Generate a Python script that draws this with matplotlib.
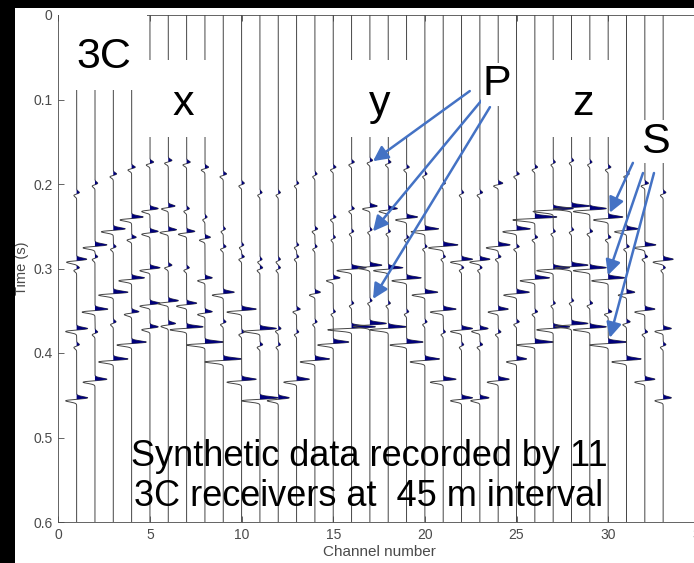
import numpy as np
import matplotlib
matplotlib.use("Agg")
import matplotlib.pyplot as plt
from matplotlib.patches import Rectangle

# ---- data ----
# 11 receivers, 3 components (x: ch 1-11, y: ch 12-22, z: ch 23-33)
channels = np.arange(1, 34)

# arrival times (s) per receiver, same for every component
p1_time = [0.210, 0.199, 0.188, 0.180, 0.174, 0.172, 0.174, 0.180, 0.188, 0.199, 0.210]
s1_time = [0.289, 0.272, 0.253, 0.239, 0.229, 0.226, 0.229, 0.239, 0.253, 0.272, 0.289]
p2_time = [0.299, 0.286, 0.274, 0.263, 0.256, 0.254, 0.256, 0.263, 0.274, 0.286, 0.299]
s2_time = [0.371, 0.348, 0.328, 0.311, 0.299, 0.296, 0.299, 0.311, 0.328, 0.348, 0.371]
p3_time = [0.390, 0.375, 0.363, 0.351, 0.341, 0.338, 0.341, 0.351, 0.363, 0.375, 0.390]
s3_time = [0.453, 0.431, 0.407, 0.387, 0.369, 0.365, 0.369, 0.387, 0.407, 0.431, 0.453]

# peak amplitudes in channel units, x | y | z
p1_amp = [0.15, 0.15, 0.18, 0.2, 0.2, 0.2, 0.2, 0.2, 0.18, 0.15, 0.12,
          0.12, 0.12, 0.12, 0.15, 0.15, 0.15, 0.15, 0.15, 0.12, 0.12, 0.12,
          0.15, 0.25, 0.15, 0.15, 0.12, 0.12, 0.12, 0.15, 0.15, 0.2, 0.15]
s1_amp = [0.55, 0.65, 0.65, 0.63, 0.45, 0.37, 0.15, 0.12, 0.12, 0.12, 0.12,
          0.12, 0.12, 0.15, 0.15, 0.15, 0.4, 0.5, 0.6, 0.75, 0.8, 0.6,
          0.55, 0.65, 0.75, 1.2, 1.1, 1.0, 0.9, 0.8, 0.65, 0.6, 0.55]
p2_amp = [0.15, 0.15, 0.15, 0.25, 0.45, 0.45, 0.45, 0.3, 0.15, 0.15, 0.15,
          0.12, 0.12, 0.12, 0.12, 0.12, 0.12, 0.12, 0.12, 0.12, 0.12, 0.12,
          0.12, 0.15, 0.15, 0.15, 0.12, 0.12, 0.15, 0.15, 0.15, 0.15, 0.12]
s2_amp = [0.6, 0.7, 0.8, 0.7, 0.55, 0.2, 0.15, 0.4, 0.6, 0.8, 0.9,
          0.15, 0.2, 0.3, 0.37, 0.8, 0.65, 0.8, 0.8, 0.7, 0.7, 0.6,
          0.45, 0.55, 0.7, 0.8, 0.9, 0.9, 0.9, 0.9, 0.45, 0.55, 0.45]
p3_amp = [0.15, 0.15, 0.15, 0.4, 0.55, 0.55, 0.55, 0.4, 0.15, 0.15, 0.15,
          0.12, 0.12, 0.12, 0.12, 0.12, 0.12, 0.12, 0.12, 0.12, 0.12, 0.12,
          0.15, 0.15, 0.15, 0.15, 0.12, 0.12, 0.15, 0.2, 0.2, 0.15, 0.15]
s3_amp = [0.6, 0.65, 0.8, 0.8, 0.45, 0.4, 0.9, 1.0, 1.0, 0.8, 1.0,
          0.6, 0.7, 0.8, 0.85, 1.3, 0.9, 1.0, 0.9, 0.8, 0.7, 0.6,
          0.5, 0.6, 0.55, 1.0, 0.9, 0.9, 0.9, 1.0, 0.8, 0.55, 0.45]

events = [(p1_time, p1_amp), (s1_time, s1_amp), (p2_time, p2_amp),
          (s2_time, s2_amp), (p3_time, p3_amp), (s3_time, s3_amp)]

x_ticks = [0, 5, 10, 15, 20, 25, 30, 35]
y_ticks = [0, 0.1, 0.2, 0.3, 0.4, 0.5, 0.6]

NAVY = "#00007a"
ARROW = "#4472c4"
FONT = "Liberation Sans"


def wavelet(tau, s=0.0018):
    # derivative of a gaussian: peak at tau=0, trough right after
    tau = tau - s
    return -(tau / s) * np.exp(0.5 - tau ** 2 / (2 * s ** 2))


t = np.arange(0, 0.6, 0.0001)

fig = plt.figure(figsize=(6.94, 5.63), dpi=100)
ax = fig.add_axes([58.3 / 694, 41 / 563, 641.5 / 694, 507 / 563])

for i, ch in enumerate(channels):
    rec = i % 11
    trace = np.zeros_like(t)
    for times, amps in events:
        trace += amps[i] * wavelet(t - times[rec])
    ax.plot(ch + trace, t, color="#444444", lw=0.7, zorder=2)
    ax.fill_betweenx(t, ch, ch + trace, where=trace > 0, color=NAVY,
                     lw=0, interpolate=True, zorder=2)

ax.set_xlim(0, 35)
ax.set_ylim(0.6, 0)
ax.set_xticks(x_ticks)
ax.set_yticks(y_ticks)
ax.set_yticklabels(["0", "0.1", "0.2", "0.3", "0.4", "0.5", "0.6"])
ax.tick_params(direction="in", top=True, right=True, length=4, width=0.6,
               colors="#4a4a4a", labelsize=10, pad=4)
for lab in ax.get_xticklabels() + ax.get_yticklabels():
    lab.set_fontfamily(FONT)
for sp in ax.spines.values():
    sp.set_color("#4a4a4a")
    sp.set_linewidth(0.6)
ax.set_xlabel("Channel number", fontsize=11, color="#4a4a4a", family=FONT)
ax.set_ylabel("Time (s)", fontsize=10.5, color="#4a4a4a", family=FONT)
ax.xaxis.set_label_coords(0.5, -0.045)
ax.yaxis.set_label_coords(-0.045, 0.5)

# white label boxes hiding the top of the traces
boxes = [(0.05, 0.0, 4.79, 0.089), (4.9, 0.053, 3.8, 0.091),
         (15.86, 0.053, 3.38, 0.091), (26.77, 0.053, 3.45, 0.091)]
for bx, by, bw, bh in boxes:
    ax.add_patch(Rectangle((bx, by), bw, bh, fc="white", ec="none", zorder=4))

big = dict(fontsize=31, family=FONT, color="black", zorder=6)
ax.text(2.5, 0.063, "3C", ha="center", va="baseline", **big)
ax.text(6.8, 0.118, "x", ha="center", va="baseline", **big)
ax.text(17.55, 0.118, "y", ha="center", va="baseline", **big)
ax.text(28.62, 0.118, "z", ha="center", va="baseline", **big)
ax.text(23.93, 0.095, "P", ha="center", va="baseline",
        bbox=dict(fc="white", ec="none", pad=1), **big)
ax.text(32.55, 0.163, "S", ha="center", va="baseline",
        bbox=dict(fc="white", ec="none", pad=1), **big)

# arrows to the P and S arrivals
p_arrows = [((22.45, 0.090), (17.17, 0.173)),
            ((23.17, 0.099), (17.17, 0.256)),
            ((23.55, 0.109), (17.17, 0.336))]
s_arrows = [((31.35, 0.175), (30.09, 0.234)),
            ((31.90, 0.187), (29.99, 0.308)),
            ((32.50, 0.187), (30.09, 0.382))]
for start, tip in p_arrows + s_arrows:
    ax.annotate("", xy=tip, xytext=start, zorder=5,
                arrowprops=dict(arrowstyle="-|>,head_length=0.9,head_width=0.45",
                                color=ARROW, lw=1.8, shrinkA=0, shrinkB=0))

txt = dict(fontsize=26, family=FONT, color="black", ha="center",
           va="baseline", zorder=6)
ax.text(16.95, 0.534, "Synthetic data recorded by 11", **txt)
ax.text(16.95, 0.581, "3C receivers at  45 m interval", **txt)

# black frame edges of the screenshot
fig.patches.append(Rectangle((0, 0), 15 / 694, 1, transform=fig.transFigure,
                             fc="black", ec="none", zorder=10))
fig.patches.append(Rectangle((0, 1 - 8 / 563), 1, 8 / 563,
                             transform=fig.transFigure, fc="black", ec="none",
                             zorder=10))

fig.savefig("out.png", dpi=100)
